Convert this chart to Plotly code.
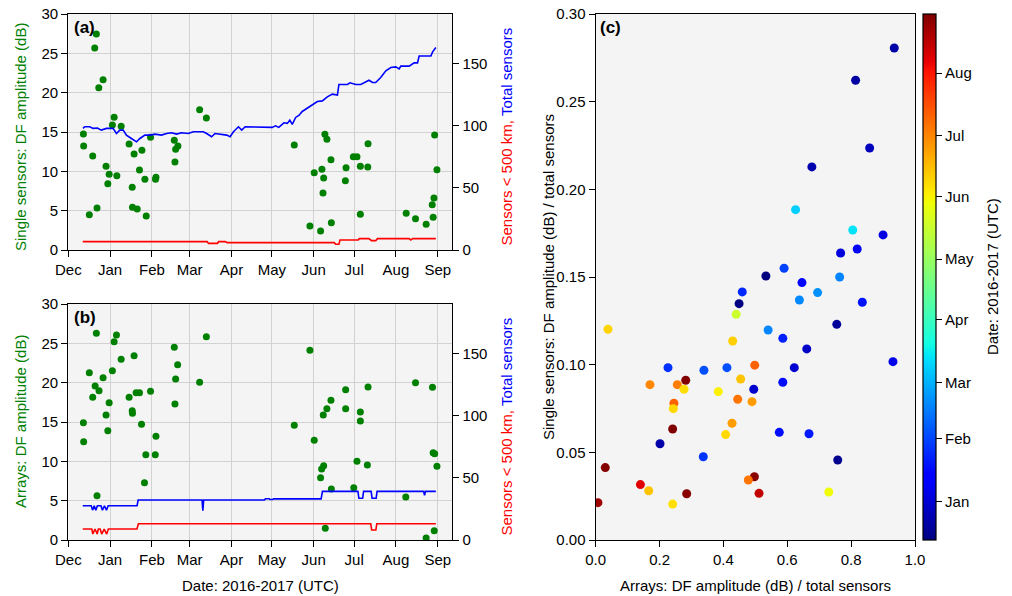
import pandas as pd
import plotly.graph_objects as go

W, H = 1012, 596
BASE = pd.Timestamp("2016-12-01")   # day offsets below are days since this date

# ---------------- panel (a): single sensors ----------------
single_day = [11.2, 11.4, 15.6, 18.1, 19.6, 20.8, 21.3, 22.6, 25.8, 28.0, 29.3, 30.3, 32.7, 34.0, 36.0,
              39.2, 45.1, 47.4, 47.6, 48.8, 51.1, 52.8, 54.6, 56.8, 57.8, 61.0, 64.7, 65.0, 78.6, 79.1,
              79.6, 81.3, 97.4, 102.4, 167.6, 179.2, 182.4, 187.1, 188.1, 188.9, 189.4, 190.3, 191.8,
              194.8, 195.1, 205.5, 206.0, 211.4, 214.1, 216.6, 216.6, 222.3, 222.1, 250.6, 257.5, 265.4,
              269.9, 270.6, 271.2, 271.7, 273.4]
single_db = [14.75, 13.22, 4.49, 11.95, 25.68, 27.46, 5.34, 20.63, 21.65, 10.64, 8.43, 9.62, 15.89, 16.87,
             9.45, 15.72, 13.47, 7.97, 5.42, 12.2, 5.21, 10.17, 12.67, 8.98, 4.32, 14.32, 9.0, 9.24, 13.94,
             11.19, 12.8, 13.22, 17.84, 16.78, 13.35, 3.05, 9.83, 2.42, 10.26, 7.25, 9.15, 14.7, 14.07,
             11.48, 3.47, 8.81, 10.46, 11.86, 11.86, 10.64, 4.54, 13.51, 10.55, 4.66, 3.98, 3.26, 5.76,
             4.15, 6.61, 14.62, 10.21]

total_a_day = [10.9, 12.2, 15.9, 18.4, 21.6, 24.5, 28.3, 33.2, 35.7, 38.2, 40.7, 43.1, 46.8, 50.6, 53.1,
               56.8, 60.5, 64.2, 69.1, 72.9, 76.6, 80.3, 84.0, 89.0, 92.7, 100.1, 102.6, 106.3, 108.8,
               112.6, 117.5, 120.0, 122.5, 126.2, 128.6, 131.2, 134.9, 142.5, 151.2, 153.7, 156.1, 159.9,
               162.4, 164.3, 166.1, 168.6, 171.0, 173.5, 177.2, 181.0, 184.7, 188.4, 192.1, 195.8, 199.6,
               200.7, 207.0, 208.9, 213.2, 216.9, 223.0, 225.6, 228.0, 231.7, 235.5, 239.2, 242.9, 245.4,
               246.6, 252.8, 256.5, 259.0, 260.2, 268.9, 270.2, 272.6]
total_a = [97.7, 99, 99, 97.7, 98, 96.3, 97.7, 97.7, 93.6, 96.3, 96.3, 92.3, 89.6, 86.9, 89.6, 92.3, 92.3,
           93.1, 92.3, 93.6, 94.2, 93.1, 94.2, 93.6, 95, 95, 93.6, 91, 93.6, 93.1, 92.3, 91, 95, 99, 96.3,
           99, 99, 98.5, 98.5, 99.8, 98.5, 102.2, 101.7, 104.3, 100.9, 106.5, 108.1, 111.3, 114, 116.4,
           119.3, 119.8, 123, 125.2, 124.4, 133, 133, 134.3, 133, 133, 136.4, 134.6, 134.6, 138.6, 143.9,
           146.6, 147.1, 145.5, 147.7, 147.7, 150.3, 150.3, 155.9, 155.9, 159.2, 162.7]

near_a_day = [10.7, 102.9, 104.0, 110.6, 111.5, 116.5, 118.0, 197.3, 198.3, 200.7, 201.5, 215.0, 215.8,
              223.0, 224.8, 228.0, 229.3, 252.8, 254.0, 255.3, 272.6]
near_a = [6.7, 6.7, 5.35, 5.35, 6.7, 6.7, 5.9, 5.9, 4.6, 4.6, 8.0, 8.0, 9.1, 9.1, 7.5, 7.5, 9.1, 9.1,
          8.0, 9.1, 9.1]

# ---------------- panel (b): arrays ----------------
array_day = [11.2, 11.4, 15.6, 18.1, 19.9, 20.8, 21.3, 22.8, 25.8, 28.0, 29.3, 30.3, 32.7, 34.0, 35.7,
             39.2, 45.1, 47.4, 47.6, 48.8, 50.3, 52.8, 54.3, 56.5, 57.5, 61.0, 64.5, 65.0, 78.6, 79.1,
             79.6, 81.1, 97.4, 102.4, 167.6, 179.2, 182.4, 187.1, 187.9, 189.1, 189.4, 190.6, 191.8,
             194.8, 195.1, 205.7, 205.7, 211.7, 214.1, 216.6, 216.6, 221.8, 222.3, 250.3, 257.5, 265.4,
             270.1, 270.6, 271.4, 271.7, 273.4]
array_db = [14.91, 12.5, 21.27, 18.14, 19.58, 26.27, 5.63, 18.98, 20.63, 15.89, 13.9, 17.46, 21.52, 25.21,
            26.06, 22.97, 18.14, 16.44, 16.1, 23.43, 18.73, 18.73, 14.7, 7.29, 10.85, 18.9, 10.85, 13.18,
            24.5, 17.29, 20.47, 22.29, 20.04, 25.85, 14.58, 24.11, 12.67, 7.92, 9.02, 15.89, 9.45, 1.48,
            16.69, 17.76, 6.48, 19.11, 16.69, 6.65, 10.0, 16.27, 15.13, 9.53, 19.45, 5.47, 20.0, 0.25,
            19.41, 11.1, 1.19, 10.97, 9.36]

total_b_day = [10.7, 17.0, 18.0, 19.2, 20.4, 21.6, 24.2, 25.3, 26.8, 28.3, 29.6, 51.0, 51.8, 99.2, 99.8,
               100.4, 145.5, 146.2, 149.0, 149.6, 151.5, 152.2, 187.5, 188.5, 214.8, 215.5, 218.3, 219.0,
               224.6, 225.3, 228.3, 229.0, 263.5, 264.2, 264.9, 272.6]
total_b = [27.5, 27.5, 24.0, 27.5, 24.0, 27.5, 27.5, 24.0, 27.5, 24.0, 27.5, 27.5, 32.1, 32.1, 23.5, 32.1,
           32.1, 33.2, 33.2, 32.5, 32.5, 33.0, 33.0, 39.1, 39.1, 33.5, 33.5, 39.1, 39.1, 33.5, 33.5, 39.1,
           39.1, 36.0, 39.1, 39.1]

near_b_day = [10.7, 17.4, 18.2, 19.8, 21.4, 22.3, 23.6, 24.8, 26.6, 28.5, 29.7, 50.9, 52.0, 224.3, 225.0,
              228.1, 228.8, 272.6]
near_b = [8.8, 8.8, 4.8, 8.8, 4.8, 8.8, 8.8, 4.8, 8.8, 4.8, 8.8, 8.8, 13.1, 13.1, 8.0, 8.0, 13.1, 13.1]

# ---------------- panel (c): normalised amplitudes ----------------
ratio_array = [0.935, 0.814, 0.858, 0.677, 0.626, 0.805, 0.900, 0.767, 0.819, 0.590, 0.646, 0.764, 0.695,
               0.638, 0.835, 0.755, 0.586, 0.661, 0.931, 0.622, 0.586, 0.575, 0.668, 0.758, 0.730, 0.459,
               0.449, 0.440, 0.0385, 0.540, 0.429, 0.2264, 0.339, 0.411, 0.498, 0.170, 0.2556, 0.282,
               0.2766, 0.454, 0.495, 0.384, 0.245, 0.243, 0.4447, 0.4895, 0.241, 0.427, 0.407, 0.2014,
               0.337, 0.030, 0.497, 0.478, 0.140, 0.166, 0.285, 0.5115, 0.241, 0.007, 0.533]
ratio_single = [0.2806, 0.2622, 0.2236, 0.2128, 0.1884, 0.1768, 0.174, 0.1637, 0.166, 0.155, 0.1468, 0.150,
                0.1411, 0.1369, 0.1356, 0.1230, 0.1150, 0.109, 0.1017, 0.0983, 0.090, 0.0614, 0.0606,
                0.0456, 0.0274, 0.1415, 0.1348, 0.1287, 0.1202, 0.1198, 0.1135, 0.0983, 0.0968, 0.0983,
                0.0997, 0.0886, 0.0886, 0.0911, 0.086, 0.0918, 0.086, 0.0846, 0.078, 0.0749, 0.0803,
                0.0789, 0.0633, 0.0666, 0.0601, 0.0549, 0.0475, 0.0413, 0.0361, 0.0342, 0.0316, 0.0281,
                0.0264, 0.0266, 0.0205, 0.0213, 0.1506]
ratio_day = [20.8, 19.9, 25.8, 22.7, 97.4, 102.4, 34.0, 32.7, 39.2, 61.0, 45.1, 78.6, 81.3, 79.6, 48.8,
             18.1, 52.8, 28.0, 35.8, 30.3, 47.4, 47.6, 51.0, 15.6, 179.2, 54.5, 11.4, 167.6, 190.5, 79.1,
             191.8, 56.7, 64.7, 65.0, 222.2, 211.5, 214.1, 271.7, 188.0, 194.8, 29.3, 182.4, 222.0, 189.4,
             216.6, 206.0, 273.4, 205.6, 189.0, 21.3, 57.5, 271.3, 270.0, 216.6, 250.5, 195.0, 270.6,
             257.5, 187.1, 265.4, 11.2]

month_starts = ["2016-12-01", "2017-01-01", "2017-02-01", "2017-03-01", "2017-04-01", "2017-05-01",
                "2017-06-01", "2017-07-01", "2017-08-01", "2017-09-01"]
month_labels = ["Dec", "Jan", "Feb", "Mar", "Apr", "May", "Jun", "Jul", "Aug", "Sep"]
cbar_months = month_starts[1:9]
cbar_labels = month_labels[1:9]

# ---------------- helpers ----------------
def to_dates(days):
    return [BASE + pd.Timedelta(days=d) for d in days]

def fx(px):
    return px / W

def fy(py):
    return 1 - py / H

FONT = "Liberation Sans, Arial, sans-serif"
FS = 15
GREEN, BLUE, RED = "#008000", "#0000ff", "#ff0000"

# matplotlib 'jet'
JET = [[0.0, "rgb(0,0,128)"], [0.11, "rgb(0,0,255)"], [0.125, "rgb(0,0,255)"], [0.34, "rgb(0,219,255)"],
       [0.35, "rgb(0,230,247)"], [0.375, "rgb(21,255,226)"], [0.64, "rgb(239,255,8)"],
       [0.65, "rgb(247,245,0)"], [0.66, "rgb(255,236,0)"], [0.89, "rgb(255,19,0)"],
       [0.91, "rgb(232,0,0)"], [1.0, "rgb(128,0,0)"]]

fig = go.Figure()

# panel (a)
fig.add_trace(go.Scatter(x=to_dates(single_day), y=single_db, mode="markers", xaxis="x", yaxis="y",
                         marker=dict(color=GREEN, size=7, line=dict(width=0)), showlegend=False))
fig.add_trace(go.Scatter(x=to_dates(total_a_day), y=total_a, mode="lines", xaxis="x", yaxis="y2",
                         line=dict(color=BLUE, width=1.6), showlegend=False))
fig.add_trace(go.Scatter(x=to_dates(near_a_day), y=near_a, mode="lines", xaxis="x", yaxis="y2",
                         line=dict(color=RED, width=1.6), showlegend=False))
# panel (b)
fig.add_trace(go.Scatter(x=to_dates(array_day), y=array_db, mode="markers", xaxis="x2", yaxis="y3",
                         marker=dict(color=GREEN, size=7, line=dict(width=0)), showlegend=False))
fig.add_trace(go.Scatter(x=to_dates(total_b_day), y=total_b, mode="lines", xaxis="x2", yaxis="y4",
                         line=dict(color=BLUE, width=1.6), showlegend=False))
fig.add_trace(go.Scatter(x=to_dates(near_b_day), y=near_b, mode="lines", xaxis="x2", yaxis="y4",
                         line=dict(color=RED, width=1.6), showlegend=False))

# panel (c)
cb_ticks = [(pd.Timestamp(m) - BASE).days for m in cbar_months]
fig.add_trace(go.Scatter(
    x=ratio_array, y=ratio_single, mode="markers", xaxis="x3", yaxis="y5", showlegend=False,
    marker=dict(size=9, color=ratio_day, colorscale=JET, cmin=12.0, cmax=272.3, line=dict(width=0),
                colorbar=dict(x=fx(922.5), xanchor="left", xpad=0, y=fy(14), yanchor="top", ypad=0,
                              len=526 / H, lenmode="fraction", thickness=13, thicknessmode="pixels",
                              outlinewidth=1.2, outlinecolor="black",
                              tickvals=cb_ticks, ticktext=cbar_labels, ticks="outside", ticklen=6,
                              tickwidth=1.2, tickcolor="black",
                              tickfont=dict(family=FONT, size=FS, color="black"))),
))

axis_common = dict(showline=True, linecolor="black", linewidth=1.3, ticks="outside", ticklen=6,
                   tickwidth=1.2, tickcolor="black", zeroline=False,
                   tickfont=dict(family=FONT, size=FS, color="black"))
grid = dict(showgrid=True, gridcolor="#d2d2d2", gridwidth=1)
xr = [BASE, pd.Timestamp("2017-09-11 19:00")]

fig.update_layout(
    width=W, height=H, margin=dict(l=0, r=0, t=0, b=0, autoexpand=False),
    paper_bgcolor="white", plot_bgcolor="#f4f4f4",
    font=dict(family=FONT, size=FS, color="black"),
    xaxis=dict(domain=[fx(68.3), fx(452.3)], anchor="y", type="date", range=xr, mirror=True,
               tickvals=month_starts, ticktext=month_labels, **grid, **axis_common),
    yaxis=dict(domain=[fy(250), fy(14)], anchor="x", range=[0, 30], dtick=5, mirror=True,
               **grid, **axis_common),
    yaxis2=dict(overlaying="y", side="right", anchor="x", range=[0, 189.6], tickvals=[0, 50, 100, 150],
                showgrid=False, **axis_common),
    xaxis2=dict(domain=[fx(68.3), fx(452.3)], anchor="y3", type="date", range=xr, mirror=True,
                tickvals=month_starts, ticktext=month_labels, **grid, **axis_common),
    yaxis3=dict(domain=[fy(540), fy(304)], anchor="x2", range=[0, 30], dtick=5, mirror=True,
                **grid, **axis_common),
    yaxis4=dict(overlaying="y3", side="right", anchor="x2", range=[0, 189.6], tickvals=[0, 50, 100, 150],
                showgrid=False, **axis_common),
    xaxis3=dict(domain=[fx(595.7), fx(915)], anchor="y5", range=[0, 1], dtick=0.2, tickformat=".1f",
                mirror=True, showgrid=False, **axis_common),
    yaxis5=dict(domain=[fy(540), fy(14)], anchor="x3", range=[0, 0.3], dtick=0.05, tickformat=".2f",
                mirror=True, showgrid=False, **axis_common),
)

def ann(text, px, py, angle=0, color="black", size=FS, xanchor="center", yanchor="middle"):
    return dict(text=text, x=fx(px), y=fy(py), xref="paper", yref="paper", showarrow=False,
                textangle=angle, xanchor=xanchor, yanchor=yanchor,
                font=dict(family=FONT, size=size, color=color))

right_title = ('<span style="color:#ff0000">Sensors &lt; 500 km,</span> '
               '<span style="color:#0000ff">Total sensors</span>')
annotations = [
    ann("<b>(a)</b>", 71.5, 27.5, size=17, xanchor="left"),
    ann("<b>(b)</b>", 71.5, 317.5, size=17, xanchor="left"),
    ann("<b>(c)</b>", 598, 27.5, size=17, xanchor="left"),
    ann("Single sensors: DF amplitude (dB)", 20, 137, angle=-90, color=GREEN),
    ann("Arrays: DF amplitude (dB)", 20, 422, angle=-90, color=GREEN),
    ann(right_title, 505.5, 137, angle=-90),
    ann(right_title, 505.5, 427, angle=-90),
    ann("Date: 2016-2017 (UTC)", 260.3, 585),
    ann("Arrays: DF amplitude (dB) / total sensors", 755.3, 585),
    ann("Single sensors: DF amplitude (dB) / total sensors", 548, 277, angle=-90),
    ann("Date: 2016-2017 (UTC)", 992, 277, angle=-90),
]
fig.update_layout(annotations=annotations)

fig.write_html("out.html")
